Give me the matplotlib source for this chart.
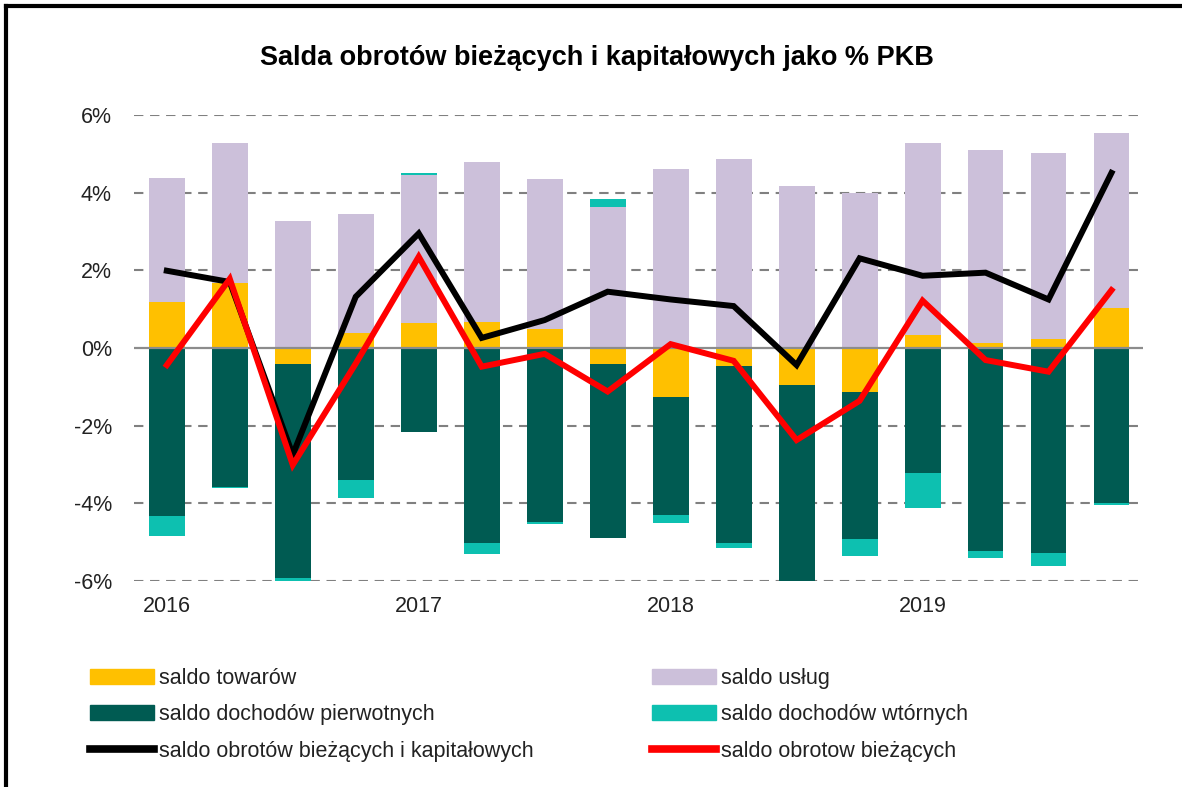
import numpy as np
import matplotlib
matplotlib.use("Agg")
from matplotlib import pyplot as plt
from matplotlib.patches import Patch
from matplotlib.lines import Line2D

plt.rcParams['font.family'] = ['Liberation Sans', 'DejaVu Sans']

# data (% PKB), 2016Q1 .. 2019Q4
quarters = ['2016 Q1', '2016 Q2', '2016 Q3', '2016 Q4',
            '2017 Q1', '2017 Q2', '2017 Q3', '2017 Q4',
            '2018 Q1', '2018 Q2', '2018 Q3', '2018 Q4',
            '2019 Q1', '2019 Q2', '2019 Q3', '2019 Q4']
year_labels = ['2016', '2017', '2018', '2019']
goods = [1.19, 1.67, -0.41, 0.38, 0.64, 0.68, 0.48, -0.41,
         -1.27, -0.46, -0.94, -1.14, 0.33, 0.12, 0.22, 1.02]
services = [3.20, 3.60, 3.28, 3.06, 3.82, 4.12, 3.86, 3.62,
            4.60, 4.86, 4.17, 4.00, 4.94, 4.98, 4.79, 4.51]
primary = [-4.33, -3.57, -5.50, -3.40, -2.17, -5.01, -4.47, -4.47,
           -3.03, -4.57, -5.15, -3.79, -3.23, -5.23, -5.27, -4.00]
secondary = [-0.51, -0.04, -0.17, -0.46, 0.05, -0.30, -0.07, 0.21,
             -0.20, -0.11, 0.00, -0.43, -0.90, -0.17, -0.34, -0.04]
current_capital = [1.99, 1.70, -2.75, 1.32, 2.95, 0.26, 0.72, 1.45,
                   1.25, 1.08, -0.44, 2.31, 1.86, 1.94, 1.25, 4.51]
current = [-0.44, 1.78, -3.01, -0.40, 2.35, -0.48, -0.15, -1.12,
           0.10, -0.33, -2.37, -1.36, 1.22, -0.31, -0.61, 1.49]

# styles
c_goods = '#FFC000'
c_serv = '#CCC0DA'
c_prim = '#005B52'
c_sec = '#0DC0B0'

fig = plt.figure(figsize=(11.82, 7.87), dpi=100)
ax = fig.add_axes([0.1134, 0.2617, 0.8536, 0.5922])

x = np.arange(len(quarters))
pos_base = np.zeros(len(x))
neg_base = np.zeros(len(x))
for vals, col in [(goods, c_goods), (services, c_serv), (primary, c_prim), (secondary, c_sec)]:
    v = np.array(vals)
    bottom = np.where(v >= 0, pos_base, neg_base)
    ax.bar(x, v, 0.57, bottom=bottom, color=col, edgecolor='none', zorder=2)
    pos_base = pos_base + np.where(v > 0, v, 0)
    neg_base = neg_base + np.where(v < 0, v, 0)

ax.plot(x, current_capital, color='black', lw=4.3, zorder=4, solid_joinstyle='miter')
ax.plot(x, current, color='#FF0000', lw=4.3, zorder=5, solid_joinstyle='miter')

ax.set_ylim(-6, 6)
ax.set_xlim(-0.52, 15.5)
ax.set_yticks([-6, -4, -2, 0, 2, 4, 6])
ax.set_yticklabels(['%d%%' % t for t in [-6, -4, -2, 0, 2, 4, 6]])
ax.set_xticks([0, 4, 8, 12])
ax.set_xticklabels(year_labels)
ax.tick_params(axis='both', length=0, labelsize=15.5, colors='#222222')
ax.tick_params(axis='y', pad=16)
ax.tick_params(axis='x', pad=11)
for s in ax.spines.values():
    s.set_visible(False)
for t in [-6, -4, -2, 2, 4, 6]:
    ax.axhline(t, color='#808080', lw=1.5, ls=(0, (4.5, 3.2)), zorder=1)
ax.axhline(0, color='#8c8c8c', lw=1.6, zorder=3)

fig.text(0.505, 0.926, 'Salda obrotów bieżących i kapitałowych jako % PKB',
         ha='center', va='center', fontsize=19.5, fontweight='bold')

# legend, two columns placed by hand
left_h = [Patch(color=c_goods), Patch(color=c_prim),
          Line2D([], [], color='black', lw=5.5)]
left_l = ['saldo towarów', 'saldo dochodów pierwotnych',
          'saldo obrotów bieżących i kapitałowych']
right_h = [Patch(color=c_serv), Patch(color=c_sec),
           Line2D([], [], color='#FF0000', lw=5.5)]
right_l = ['saldo usług', 'saldo dochodów wtórnych', 'saldo obrotow bieżących']
for hs, ls, xpos in [(left_h, left_l, 90 / 1182), (right_h, right_l, 652 / 1182)]:
    leg = fig.legend(hs, ls, loc='upper left', bbox_to_anchor=(xpos, 1 - 668 / 787),
                     frameon=False, fontsize=15.5, handlelength=2.95,
                     handletextpad=0.25, labelspacing=0.71, borderaxespad=0,
                     borderpad=0)
    for t in leg.get_texts():
        t.set_color('#222222')

# frame lines (top and left visible in the reference)
fig.add_artist(Line2D([6 / 1182, 6 / 1182], [0, 1 - 6 / 787], color='black', lw=3,
                      transform=fig.transFigure))
fig.add_artist(Line2D([6 / 1182, 1], [1 - 6 / 787, 1 - 6 / 787], color='black', lw=3,
                      transform=fig.transFigure))

fig.savefig('out.png', dpi=100)
